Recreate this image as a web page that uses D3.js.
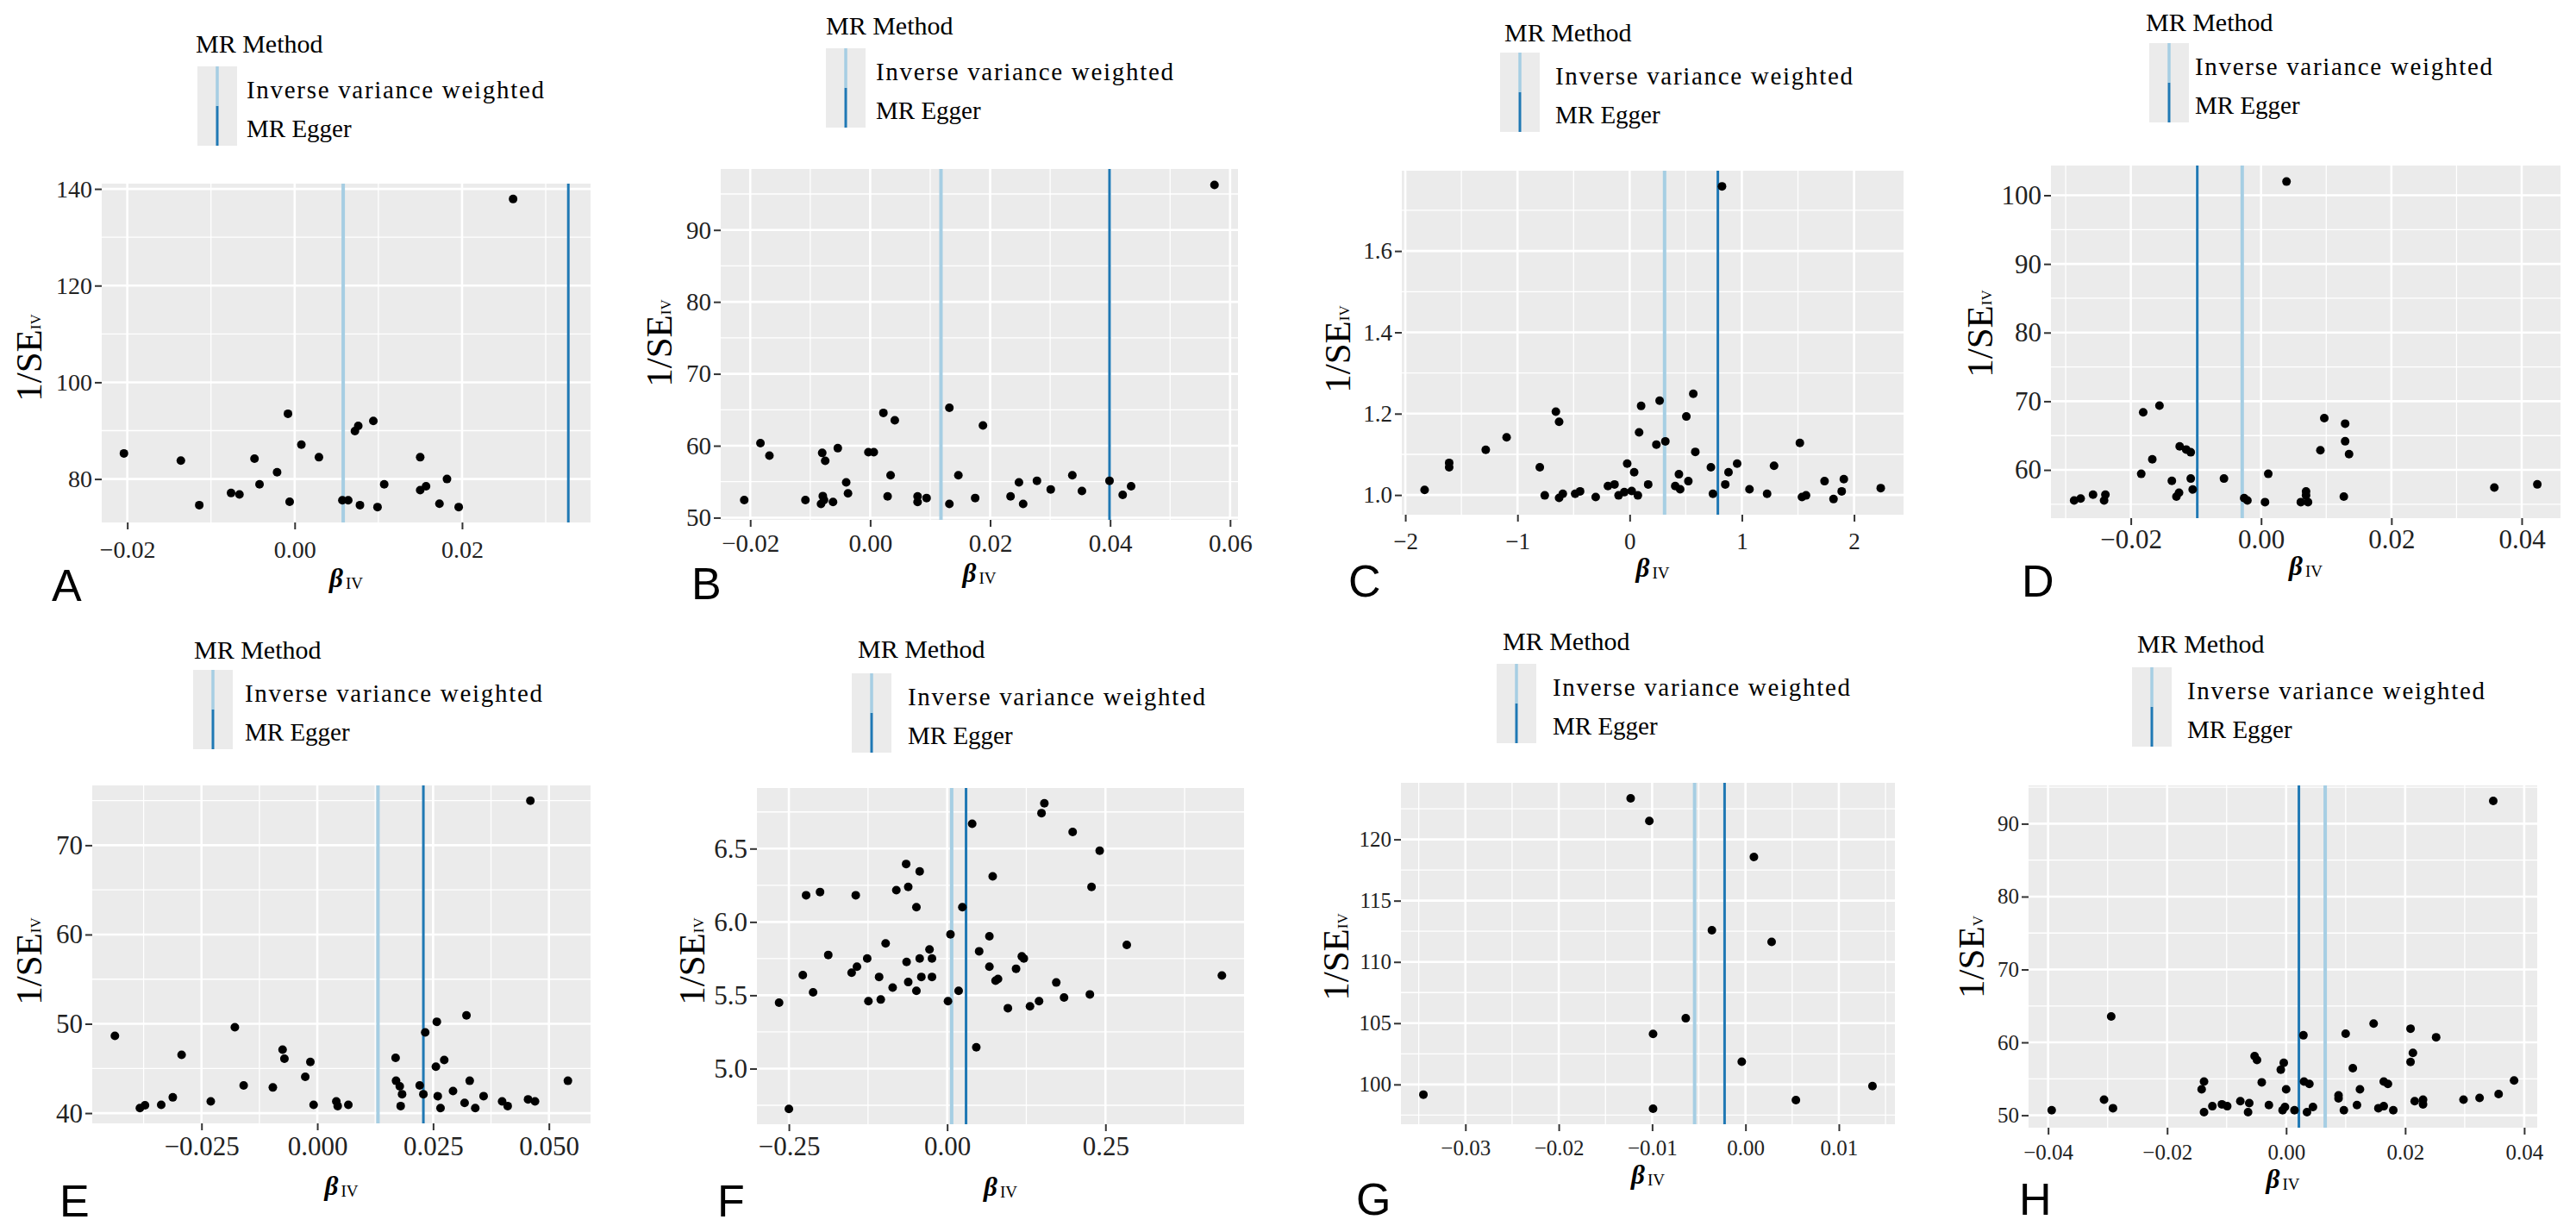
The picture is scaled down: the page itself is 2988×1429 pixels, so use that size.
<!DOCTYPE html>
<html><head><meta charset="utf-8">
<script src="https://cdn.jsdelivr.net/npm/d3@7"></script>
<style>body{margin:0;background:#fff} svg{display:block}</style>
</head><body>
<svg id="c" width="2988" height="1429"></svg>
<script>
// ---------------- DATA ----------------
const panelLetters = ["A","B","C","D","E","F","G","H"];
const methodNames = ["Inverse variance weighted","MR Egger"];

const betaA = [-0.0204,-0.0136,-0.0114,-0.0076,-0.0066,-0.0048,-0.0042,-0.0021,-0.0008,-0.0006,0.0008,0.0029,0.0057,0.0064,0.0072,0.0076,0.0078,0.0094,0.0099,0.0107,0.0150,0.0150,0.0157,0.0173,0.0182,0.0196,0.0261];
const invSeA = [85.3,83.8,74.6,77.1,76.8,84.2,78.9,81.4,93.5,75.3,87.1,84.5,75.6,75.6,89.9,91.0,74.6,92.0,74.2,78.9,84.5,77.7,78.5,74.9,80.0,74.2,137.9];

const betaB = [-0.0210,-0.0183,-0.0168,-0.0108,-0.0082,-0.0080,-0.0079,-0.0077,-0.0075,-0.0062,-0.0054,-0.0040,-0.0037,-0.0003,0.0006,0.0022,0.0029,0.0034,0.0041,0.0079,0.0079,0.0094,0.0132,0.0132,0.0147,0.0175,0.0188,0.0234,0.0248,0.0255,0.0278,0.0301,0.0337,0.0353,0.0399,0.0421,0.0435,0.0574];
const invSeB = [52.45,60.37,58.62,52.45,51.91,59.0,53.0,52.45,57.9,52.18,59.66,54.9,53.38,59.1,59.1,64.57,52.95,55.9,63.53,52.95,52.18,52.73,65.28,51.91,55.9,52.73,62.82,52.95,54.9,51.91,55.13,53.93,55.9,53.71,55.13,53.16,54.36,96.26];

const betaC = [-1.828,-1.609,-1.609,-1.283,-1.097,-0.801,-0.757,-0.658,-0.629,-0.629,-0.596,-0.486,-0.442,-0.303,-0.194,-0.135,-0.099,-0.048,-0.022,0.018,0.040,0.073,0.084,0.102,0.165,0.238,0.267,0.318,0.406,0.439,0.450,0.505,0.523,0.567,0.585,0.724,0.742,0.823,0.852,0.881,0.958,1.068,1.225,1.287,1.517,1.536,1.572,1.737,1.817,1.890,1.909,2.238];
const invSeC = [1.0125,1.079,1.068,1.111,1.142,1.068,0.999,1.205,1.180,0.993,1.003,1.003,1.009,0.995,1.022,1.026,0.999,1.007,1.077,1.010,1.056,0.999,1.154,1.219,1.026,1.124,1.232,1.132,1.022,1.051,1.014,1.193,1.034,1.249,1.106,1.068,1.003,1.759,1.026,1.056,1.077,1.014,1.003,1.072,1.128,0.995,0.999,1.034,0.990,1.009,1.039,1.017];

const betaD = [-0.0287,-0.0277,-0.0258,-0.0241,-0.0239,-0.0184,-0.0181,-0.0167,-0.0156,-0.0137,-0.0130,-0.0126,-0.0125,-0.0115,-0.0108,-0.0108,-0.0105,-0.0057,-0.0026,-0.0021,0.0006,0.0011,0.0039,0.0061,0.0069,0.0069,0.0072,0.0091,0.0097,0.0127,0.0129,0.0129,0.0135,0.0358,0.0424];
const invSeD = [55.54,55.83,56.4,55.54,56.4,59.43,68.4,61.54,69.37,58.4,56.11,56.69,63.43,62.97,62.57,58.74,57.14,58.74,55.89,55.54,55.31,59.43,102.0,55.31,56.86,56.29,55.31,62.86,67.54,56.11,66.74,64.17,62.29,57.43,57.89];

const betaE = [-0.0437,-0.0383,-0.0372,-0.0337,-0.0312,-0.0293,-0.0230,-0.0178,-0.0159,-0.0096,-0.0075,-0.0071,-0.0026,-0.0015,-0.0008,0.0041,0.0044,0.0067,0.0169,0.0170,0.0178,0.0180,0.0183,0.0221,0.0229,0.0233,0.0256,0.0258,0.0260,0.0266,0.0274,0.0293,0.0318,0.0322,0.0329,0.0341,0.0359,0.0399,0.0411,0.0455,0.0470,0.0460,0.0541];
const invSeE = [48.65,40.57,40.88,40.93,41.76,46.53,41.32,49.62,43.09,42.87,47.1,46.09,44.06,45.73,40.93,41.32,40.79,40.93,46.18,43.62,43.0,40.79,42.12,43.09,42.12,49.04,45.2,50.23,41.9,40.57,45.95,42.47,41.15,50.94,43.62,40.57,41.9,41.32,40.79,41.54,41.32,74.98,43.62];

const betaF = [-0.2655,-0.2500,-0.2280,-0.2228,-0.2118,-0.2008,-0.1878,-0.1509,-0.1444,-0.1425,-0.1263,-0.1244,-0.1075,-0.1049,-0.0972,-0.0861,-0.0803,-0.0648,-0.0641,-0.0615,-0.0615,-0.0486,-0.0486,-0.0434,-0.0434,-0.0408,-0.0279,-0.0240,-0.0240,0.0013,0.0052,0.0181,0.0240,0.0395,0.0460,0.0505,0.0667,0.0667,0.0719,0.0764,0.0803,0.0959,0.1088,0.1179,0.1211,0.1308,0.1451,0.1490,0.1535,0.1723,0.1846,0.1982,0.2254,0.2280,0.2409,0.2837,0.4339];
const invSeF = [5.45,4.725,5.638,6.182,5.52,6.204,5.775,5.654,6.182,5.695,5.751,5.46,5.625,5.471,5.854,5.552,6.217,6.395,5.727,6.239,5.59,6.101,5.53,6.344,5.751,5.625,5.813,5.751,5.625,5.46,5.915,5.53,6.101,6.669,5.145,5.8,5.695,5.902,6.311,5.6,5.611,5.412,5.681,5.765,5.751,5.425,5.46,6.742,6.809,5.587,5.485,6.613,5.506,6.239,6.486,5.843,5.635];

const betaG = [-0.0345,-0.0123,-0.0103,-0.0099,-0.0099,-0.0064,-0.0036,-0.0004,0.0009,0.0028,0.0054,0.0136];
const invSeG = [99.17,123.35,121.5,104.12,98.02,105.4,112.59,101.85,118.56,111.63,98.72,99.87];

const betaH = [-0.0394,-0.0306,-0.0294,-0.0291,-0.0142,-0.0138,-0.0138,-0.0124,-0.0108,-0.0099,-0.0077,-0.0064,-0.0062,-0.0053,-0.0049,-0.0041,-0.0029,-0.0009,-0.0006,-0.0004,-0.0002,0.0000,0.0014,0.0029,0.0030,0.0035,0.0039,0.0045,0.0088,0.0088,0.0097,0.0100,0.0112,0.0119,0.0124,0.0147,0.0155,0.0164,0.0164,0.0171,0.0180,0.0209,0.0209,0.0213,0.0216,0.0230,0.0230,0.0252,0.0298,0.0325,0.0348,0.0357,0.0383];
const invSeH = [50.7,52.15,63.55,50.97,53.55,54.62,50.43,51.24,51.5,51.24,51.94,50.43,51.67,58.12,57.58,54.52,51.4,56.24,50.7,57.2,51.13,53.55,50.7,60.97,54.62,50.43,54.3,51.13,52.74,52.31,50.7,61.18,56.45,51.4,53.55,62.58,50.97,54.62,51.24,54.3,50.7,61.88,57.31,58.55,51.94,51.5,52.15,60.7,52.15,52.37,93.12,52.9,54.78];

const ivwBeta   = [0.0058, 0.0118, 0.311, -0.0029, 0.0131, 0.0071, -0.00545, 0.00656];
const eggerBeta = [0.0327, 0.0399, 0.786, -0.0098, 0.0229, 0.0298, -0.00224, 0.00214];

const xTicksA = [-0.02,0,0.02];              const yTicksA = [80,100,120,140];
const xTicksB = [-0.02,0,0.02,0.04,0.06];    const yTicksB = [50,60,70,80,90];
const xTicksC = [-2,-1,0,1,2];               const yTicksC = [1.0,1.2,1.4,1.6];
const xTicksD = [-0.02,0,0.02,0.04];         const yTicksD = [60,70,80,90,100];
const xTicksE = [-0.025,0,0.025,0.05];       const yTicksE = [40,50,60,70];
const xTicksF = [-0.25,0,0.25];              const yTicksF = [5.0,5.5,6.0,6.5];
const xTicksG = [-0.03,-0.02,-0.01,0,0.01];  const yTicksG = [100,105,110,115,120];
const xTicksH = [-0.04,-0.02,0,0.02,0.04];   const yTicksH = [50,60,70,80,90];
const xDecimals = [2,2,0,2,3,2,2,2];
const yDecimals = [0,0,1,0,0,1,0,0];
const ySubscripts = ["IV","IV","IV","IV","IV","IV","IV","V"];

const betas = [betaA,betaB,betaC,betaD,betaE,betaF,betaG,betaH];
const invSes = [invSeA,invSeB,invSeC,invSeD,invSeE,invSeF,invSeG,invSeH];
const xTicks = [xTicksA,xTicksB,xTicksC,xTicksD,xTicksE,xTicksF,xTicksG,xTicksH];
const yTicks = [yTicksA,yTicksB,yTicksC,yTicksD,yTicksE,yTicksF,yTicksG,yTicksH];

// ---------------- LAYOUT ----------------
const layouts = [
 {L:118,R:685,T:213,B:606, tx:227,tb:61, kx:229,ky:77, lx:286, xt:67, yx:33,  yy:415, px:60,  pb:697, fs:28, xp:13},
 {L:836,R:1436,T:196,B:603, tx:958,tb:40, kx:958,ky:56, lx:1016, xt:64, yx:764, yy:398, px:802, pb:695, fs:29, xp:8},
 {L:1626,R:2208,T:198,B:597, tx:1745,tb:48, kx:1740,ky:61, lx:1804, xt:64, yx:1551, yy:405, px:1564, pb:692, fs:27, xp:13},
 {L:2379,R:2970,T:192,B:601, tx:2489,tb:36, kx:2493,ky:50, lx:2546, xt:58, yx:2296, yy:387, px:2345, pb:692, fs:31, xp:5},
 {L:107,R:685,T:911,B:1303, tx:225,tb:764, kx:224,ky:777, lx:284, xt:75, yx:33,  yy:1115, px:69,  pb:1411, fs:31, xp:7},
 {L:878,R:1443,T:914,B:1304, tx:995,tb:763, kx:988,ky:781, lx:1053, xt:75, yx:802, yy:1115, px:832, pb:1411, fs:31, xp:6},
 {L:1625,R:2198,T:908,B:1304, tx:1743,tb:754, kx:1736,ky:770, lx:1801, xt:61, yx:1549, yy:1110, px:1573, pb:1409, fs:25, xp:10},
 {L:2353,R:2943,T:911,B:1308, tx:2479,tb:757, kx:2473,ky:774, lx:2537, xt:62, yx:2286, yy:1110, px:2342, pb:1409, fs:25, xp:11}
];

const SERIF = "'Liberation Serif','DejaVu Serif',serif";
const SANS = "'Liberation Sans',Arial,sans-serif";
const COL_IVW = "#a6cee3", COL_EGG = "#1f78b4", PANEL_BG = "#ebebeb";

const svg = d3.select("#c");

function expand(ext){ const d = (ext[1]-ext[0])*0.05; return [ext[0]-d, ext[1]+d]; }
function minors(ticks, dom){
  const step = ticks[1]-ticks[0];
  const out = [ticks[0]-step/2, ...ticks.map(t=>t+step/2)];
  return out.filter(v => v>dom[0] && v<dom[1]);
}

panelLetters.forEach((letter, i) => {
  const lay = layouts[i];
  const beta = betas[i], inv = invSes[i];
  const pts = beta.map((b,k)=>({b, s:inv[k]}));
  const xDom = expand(d3.extent(beta.concat([ivwBeta[i], eggerBeta[i]])));
  const yDom = expand(d3.extent(inv));
  const x = d3.scaleLinear().domain(xDom).range([lay.L, lay.R]);
  const y = d3.scaleLinear().domain(yDom).range([lay.B, lay.T]);
  const g = svg.append("g");

  g.append("rect").attr("x",lay.L).attr("y",lay.T).attr("width",lay.R-lay.L).attr("height",lay.B-lay.T).attr("fill",PANEL_BG);

  g.selectAll(null).data(minors(xTicks[i], xDom)).join("line")
    .attr("x1",d=>x(d)).attr("x2",d=>x(d)).attr("y1",lay.T).attr("y2",lay.B)
    .attr("stroke","#fff").attr("stroke-width",1.3);
  g.selectAll(null).data(minors(yTicks[i], yDom)).join("line")
    .attr("y1",d=>y(d)).attr("y2",d=>y(d)).attr("x1",lay.L).attr("x2",lay.R)
    .attr("stroke","#fff").attr("stroke-width",1.3);
  g.selectAll(null).data(xTicks[i]).join("line")
    .attr("x1",d=>x(d)).attr("x2",d=>x(d)).attr("y1",lay.T).attr("y2",lay.B)
    .attr("stroke","#fff").attr("stroke-width",2.6);
  g.selectAll(null).data(yTicks[i]).join("line")
    .attr("y1",d=>y(d)).attr("y2",d=>y(d)).attr("x1",lay.L).attr("x2",lay.R)
    .attr("stroke","#fff").attr("stroke-width",2.6);

  g.append("line").attr("x1",x(ivwBeta[i])).attr("x2",x(ivwBeta[i])).attr("y1",lay.T).attr("y2",lay.B)
    .attr("stroke",COL_IVW).attr("stroke-width",4);
  g.append("line").attr("x1",x(eggerBeta[i])).attr("x2",x(eggerBeta[i])).attr("y1",lay.T).attr("y2",lay.B)
    .attr("stroke",COL_EGG).attr("stroke-width",3);

  g.selectAll(null).data(pts).join("circle")
    .attr("cx",d=>x(d.b)).attr("cy",d=>y(d.s)).attr("r",5).attr("fill","#000");

  const xf = d3.format("."+xDecimals[i]+"f"), yf = d3.format("."+yDecimals[i]+"f");
  const ax = g.append("g").attr("transform",`translate(0,${lay.B})`)
    .call(d3.axisBottom(x).tickValues(xTicks[i]).tickFormat(xf).tickSize(8).tickPadding(lay.xp));
  const ay = g.append("g").attr("transform",`translate(${lay.L},0)`)
    .call(d3.axisLeft(y).tickValues(yTicks[i]).tickFormat(yf).tickSize(8).tickPadding(3));
  [ax,ay].forEach(a=>{
    a.select(".domain").remove();
    a.selectAll(".tick line").attr("stroke","#333").attr("stroke-width",2);
    a.selectAll(".tick text").attr("fill","#222").style("font-family",SERIF).style("font-size",lay.fs+"px");
  });

  const xtEl = g.append("text").attr("x",(lay.L+lay.R)/2).attr("y",lay.B+lay.xt+8)
    .attr("text-anchor","middle").style("font-family",SERIF).attr("fill","#000");
  xtEl.append("tspan").text("β").style("font-size","31px").style("font-weight","bold").style("font-style","italic");
  xtEl.append("tspan").text("IV").style("font-size","19px").attr("dy",2).attr("dx",3);

  const ytEl = g.append("text").attr("transform",`translate(${lay.yx},${lay.yy}) rotate(-90)`)
    .attr("text-anchor","middle").attr("dominant-baseline","central").style("font-family",SERIF).attr("fill","#000");
  ytEl.append("tspan").text("1/SE").style("font-size","43px");
  ytEl.append("tspan").text(ySubscripts[i]).style("font-size","17px").attr("dy",8);

  g.append("text").attr("x",lay.tx).attr("y",lay.tb).text("MR Method")
    .style("font-family",SERIF).style("font-size","30px").attr("fill","#000");
  g.append("rect").attr("x",lay.kx).attr("y",lay.ky).attr("width",46).attr("height",92).attr("fill",PANEL_BG);
  g.append("line").attr("x1",lay.kx+23).attr("x2",lay.kx+23).attr("y1",lay.ky).attr("y2",lay.ky+46)
    .attr("stroke",COL_IVW).attr("stroke-width",3.5);
  g.append("line").attr("x1",lay.kx+23).attr("x2",lay.kx+23).attr("y1",lay.ky+46).attr("y2",lay.ky+92)
    .attr("stroke",COL_EGG).attr("stroke-width",3);
  g.append("text").attr("x",lay.lx).attr("y",lay.ky+37).text(methodNames[0])
    .attr("textLength",345).attr("lengthAdjust","spacing")
    .style("font-family",SERIF).style("font-size","29px").attr("fill","#000");
  g.append("text").attr("x",lay.lx).attr("y",lay.ky+82).text(methodNames[1])
    .style("font-family",SERIF).style("font-size","29px").attr("fill","#000");

  g.append("text").attr("x",lay.px).attr("y",lay.pb).text(letter)
    .style("font-family",SANS).style("font-size","52px").attr("fill","#000");
});
</script>
</body></html>
